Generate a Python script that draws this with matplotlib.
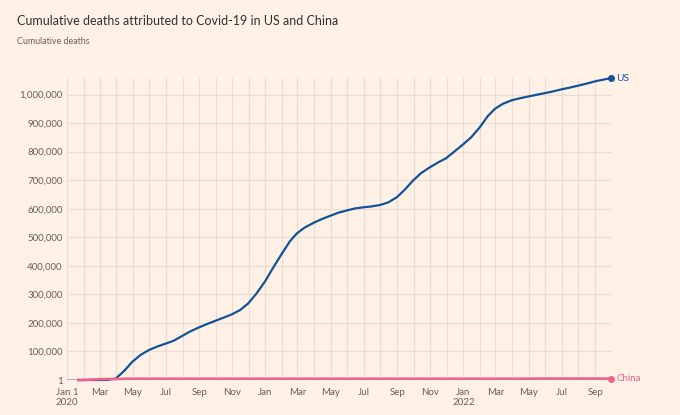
import datetime as dt
import matplotlib.pyplot as plt
import matplotlib.dates as mdates
from matplotlib.ticker import FuncFormatter

# US cumulative deaths (roughly twice a month)
us_dates = ["2020-01-22", "2020-02-29", "2020-03-15", "2020-03-31", "2020-04-15", "2020-04-30",
            "2020-05-15", "2020-05-31", "2020-06-15", "2020-06-30", "2020-07-15", "2020-07-31",
            "2020-08-15", "2020-08-31", "2020-09-15", "2020-09-30", "2020-10-15", "2020-10-31",
            "2020-11-15", "2020-11-30", "2020-12-15", "2020-12-31", "2021-01-15", "2021-01-31",
            "2021-02-15", "2021-02-28", "2021-03-15", "2021-03-31", "2021-04-15", "2021-04-30",
            "2021-05-15", "2021-05-31", "2021-06-15", "2021-06-30", "2021-07-15", "2021-07-31",
            "2021-08-15", "2021-08-31", "2021-09-15", "2021-09-30", "2021-10-15", "2021-10-31",
            "2021-11-15", "2021-11-30", "2021-12-15", "2021-12-31", "2022-01-15", "2022-01-31",
            "2022-02-15", "2022-02-28", "2022-03-15", "2022-03-31", "2022-04-15", "2022-04-30",
            "2022-05-15", "2022-05-31", "2022-06-15", "2022-06-30", "2022-07-15", "2022-07-31",
            "2022-08-15", "2022-08-31", "2022-09-15", "2022-09-30"]
us_deaths = [0, 1, 68, 5300, 31000, 63000,
             87000, 105000, 117000, 127000, 137000, 154000,
             170000, 184000, 196000, 207000, 218000, 230000,
             245000, 268000, 302000, 345000, 393000, 442000,
             486000, 514000, 535000, 551000, 564000, 575000,
             586000, 594000, 601000, 605000, 608000, 613000,
             622000, 640000, 667000, 699000, 725000, 745000,
             762000, 777000, 800000, 825000, 850000, 885000,
             925000, 950000, 968000, 980000, 987000, 993000,
             999000, 1005000, 1011000, 1018000, 1024000, 1031000,
             1038000, 1046000, 1052000, 1058000]

# China cumulative deaths
cn_dates = ["2020-01-22", "2020-02-01", "2020-02-15", "2020-03-01", "2020-03-15", "2020-04-01",
            "2020-04-17", "2021-01-01", "2022-01-01", "2022-04-15", "2022-05-31", "2022-09-30"]
cn_deaths = [17, 304, 1666, 2870, 3199, 3316,
             4632, 4634, 4636, 4638, 5226, 5226]

y_ticks = [0, 100000, 200000, 300000, 400000, 500000, 600000, 700000, 800000, 900000, 1000000]

bg = "#FFF1E5"
us_col = "#0F5499"
cn_col = "#EB6590"
grid_col = "#EBDDD2"
txt_col = "#66605C"

plt.rcParams["font.family"] = ["Lato", "DejaVu Sans"]

us_x = [dt.datetime.strptime(d, "%Y-%m-%d") for d in us_dates]
cn_x = [dt.datetime.strptime(d, "%Y-%m-%d") for d in cn_dates]

fig = plt.figure(figsize=(6.8, 4.15), dpi=100, facecolor=bg)
ax = fig.add_axes([0.0985, 0.0843, 0.80, 0.7277])
ax.set_facecolor(bg)

ax.set_xlim(dt.datetime(2020, 1, 1), us_x[-1])
ax.set_ylim(0, us_deaths[-1])

# grid
ax.xaxis.set_major_locator(mdates.MonthLocator(bymonth=[1, 3, 5, 7, 9, 11]))
ax.xaxis.set_minor_locator(mdates.MonthLocator())
ax.set_yticks(y_ticks)
ax.grid(True, which="both", axis="x", color=grid_col, lw=0.9)
ax.grid(True, which="major", axis="y", color=grid_col, lw=0.9)
ax.set_axisbelow(True)
for s in ax.spines.values():
    s.set_visible(False)
ax.axhline(0, color="#A8A09A", lw=1.2, zorder=1)


def xfmt(v, pos):
    d = mdates.num2date(v)
    if d.month == 1 and d.year == 2020:
        return "Jan 1\n2020"
    if d.month == 1 and d.year == 2022:
        return "Jan\n2022"
    return d.strftime("%b")


ax.xaxis.set_major_formatter(FuncFormatter(xfmt))
ax.yaxis.set_major_formatter(FuncFormatter(lambda v, p: "1" if v == 0 else "{:,.0f}".format(v)))
ax.tick_params(axis="both", which="both", length=0, labelsize=7, colors=txt_col)
ax.tick_params(axis="y", pad=3)
ax.tick_params(axis="x", pad=6)
for t in ax.get_xticklabels():
    t.set_linespacing(1.1)

# lines
ax.plot(us_x, us_deaths, color=us_col, lw=1.6, zorder=3, clip_on=False)
ax.plot(cn_x, cn_deaths, color=cn_col, lw=1.9, zorder=4, clip_on=False)
ax.plot(us_x[-1], us_deaths[-1], "o", color=us_col, ms=4, zorder=5, clip_on=False)
ax.plot(cn_x[-1], cn_deaths[-1], "o", color=cn_col, ms=4, zorder=5, clip_on=False)
ax.annotate("US", (us_x[-1], us_deaths[-1]), xytext=(4, 0), textcoords="offset points",
            va="center", ha="left", fontsize=7.3, color=us_col)
ax.annotate("China", (cn_x[-1], cn_deaths[-1]), xytext=(4, 0), textcoords="offset points",
            va="center", ha="left", fontsize=7, color=cn_col)

fig.text(17 / 680, 1 - 21 / 415, "Cumulative deaths attributed to Covid-19 in US and China",
         fontsize=9, color="#33302E", va="center", ha="left")
fig.text(17 / 680, 1 - 42 / 415, "Cumulative deaths", fontsize=6.4, color=txt_col,
         va="center", ha="left")

fig.savefig("out.png", dpi=100, facecolor=bg)
